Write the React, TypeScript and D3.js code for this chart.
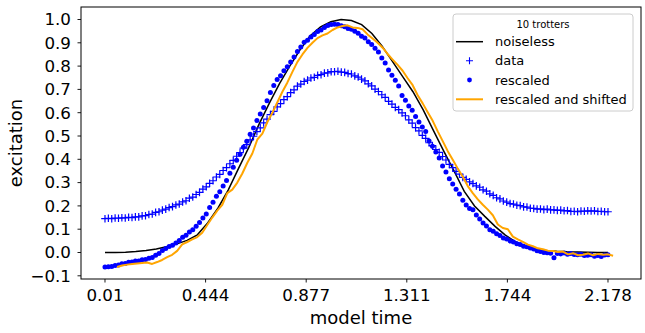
import React from 'react';
import * as d3 from 'd3';

// ---- data ----
const T_START = 0.01;
const T_END = 2.178;
const SHIFT_T_START = 0.062;
const SHIFT_T_END = 2.2;

const xTickValues = [0.01, 0.4436, 0.8772, 1.3108, 1.7444, 2.178];
const xTickLabels = ['0.01', '0.444', '0.877', '1.311', '1.744', '2.178'];
const yTickValues = [-0.1, 0.0, 0.1, 0.2, 0.3, 0.4, 0.5, 0.6, 0.7, 0.8, 0.9, 1.0];
const yTickLabels = ['\u22120.1', '0.0', '0.1', '0.2', '0.3', '0.4', '0.5', '0.6', '0.7', '0.8', '0.9', '1.0'];

const legendTitle = '10 trotters';
const seriesNames = ['noiseless', 'data', 'rescaled', 'rescaled and shifted'];

const noiseless = [
  0.0, 0.0, 0.001, 0.004, 0.009, 0.015, 0.025, 0.037, 0.052, 0.076,
  0.127, 0.19, 0.268, 0.36, 0.45, 0.55, 0.64, 0.725, 0.8, 0.87,
  0.93, 0.968, 0.99, 1.0, 0.996, 0.978, 0.94, 0.885, 0.82, 0.755,
  0.69, 0.612, 0.523, 0.435, 0.35, 0.262, 0.2, 0.155, 0.112, 0.075,
  0.046, 0.027, 0.014, 0.009, 0.005, 0.003, 0.002, 0.001, 0.0, 0.0,
];

const dataVals = [
  0.145, 0.147, 0.145, 0.148, 0.147, 0.149, 0.148, 0.151, 0.150, 0.153,
  0.153, 0.157, 0.158, 0.163, 0.165, 0.172, 0.175, 0.182, 0.186, 0.193,
  0.197, 0.204, 0.208, 0.217, 0.222, 0.233, 0.238, 0.249, 0.258, 0.272,
  0.282, 0.297, 0.308, 0.324, 0.335, 0.352, 0.364, 0.381, 0.395, 0.413,
  0.429, 0.448, 0.463, 0.483, 0.499, 0.519, 0.535, 0.556, 0.572, 0.592,
  0.606, 0.625, 0.639, 0.656, 0.669, 0.686, 0.698, 0.714, 0.723, 0.734,
  0.740, 0.749, 0.752, 0.760, 0.763, 0.770, 0.771, 0.776, 0.776, 0.778,
  0.774, 0.773, 0.768, 0.766, 0.758, 0.753, 0.744, 0.737, 0.724, 0.715,
  0.701, 0.691, 0.677, 0.666, 0.649, 0.637, 0.623, 0.613, 0.599, 0.587,
  0.569, 0.555, 0.536, 0.522, 0.503, 0.490, 0.471, 0.459, 0.442, 0.430,
  0.412, 0.397, 0.378, 0.364, 0.348, 0.336, 0.322, 0.314, 0.303, 0.296,
  0.286, 0.280, 0.269, 0.263, 0.252, 0.245, 0.235, 0.230, 0.221, 0.216,
  0.210, 0.208, 0.203, 0.201, 0.196, 0.195, 0.190, 0.189, 0.186, 0.187,
  0.184, 0.186, 0.183, 0.183, 0.181, 0.182, 0.179, 0.180, 0.176, 0.177,
  0.175, 0.178, 0.177, 0.179, 0.178, 0.179, 0.176, 0.177, 0.175, 0.175,
];

const rescaledVals = [
  -0.062, -0.061, -0.060, -0.056, -0.054, -0.048, -0.047, -0.042, -0.041, -0.037,
  -0.036, -0.031, -0.030, -0.025, -0.021, -0.012, -0.004, 0.009, 0.017, 0.026,
  0.031, 0.041, 0.051, 0.065, 0.074, 0.088, 0.098, 0.113, 0.129, 0.148,
  0.165, 0.193, 0.216, 0.241, 0.261, 0.285, 0.309, 0.340, 0.366, 0.396,
  0.422, 0.452, 0.477, 0.507, 0.534, 0.566, 0.594, 0.622, 0.651, 0.687,
  0.717, 0.742, 0.759, 0.780, 0.797, 0.818, 0.839, 0.863, 0.882, 0.902,
  0.911, 0.925, 0.936, 0.948, 0.955, 0.966, 0.974, 0.979, 0.980, 0.979,
  0.973, 0.969, 0.961, 0.958, 0.950, 0.941, 0.928, 0.921, 0.904, 0.893,
  0.877, 0.861, 0.835, 0.813, 0.783, 0.761, 0.739, 0.715, 0.674, 0.653,
  0.629, 0.610, 0.584, 0.560, 0.539, 0.519, 0.479, 0.456, 0.431, 0.406,
  0.371, 0.346, 0.317, 0.294, 0.271, 0.251, 0.224, 0.204, 0.189, 0.183,
  0.161, 0.144, 0.127, 0.114, 0.098, 0.091, 0.080, 0.073, 0.062, 0.058,
  0.049, 0.045, 0.038, 0.034, 0.027, 0.025, 0.019, 0.015, 0.007, 0.004,
  0.000, -0.001, -0.003, -0.022, -0.004, -0.006, -0.002, -0.007, -0.004, -0.009,
  -0.010, -0.008, -0.013, -0.012, -0.010, -0.016, -0.013, -0.017, -0.011, -0.010,
];

const shiftedVals = [
  -0.062, -0.056, -0.052, -0.049, -0.047, -0.045, -0.043, -0.049, -0.041, -0.032,
  -0.020, -0.010, 0.007, 0.035, 0.045, 0.056, 0.066, 0.085, 0.118, 0.150,
  0.180, 0.205, 0.255, 0.270, 0.300, 0.339, 0.385, 0.425, 0.485, 0.510,
  0.560, 0.600, 0.645, 0.690, 0.730, 0.775, 0.818, 0.850, 0.878, 0.900,
  0.920, 0.932, 0.940, 0.955, 0.966, 0.972, 0.975, 0.966, 0.964, 0.958,
  0.936, 0.918, 0.900, 0.879, 0.852, 0.828, 0.805, 0.780, 0.748, 0.718,
  0.675, 0.640, 0.602, 0.565, 0.520, 0.478, 0.435, 0.398, 0.360, 0.325,
  0.285, 0.255, 0.228, 0.205, 0.184, 0.160, 0.120, 0.105, 0.100, 0.068,
  0.056, 0.046, 0.034, 0.027, 0.018, 0.014, 0.008, 0.006, 0.002, 0.004,
  -0.008, -0.003, -0.012, -0.010, -0.004, -0.012, -0.006, -0.010, -0.008, -0.014,
];

// ---- layout ----
const W = 645;
const H = 333;
const PL = 81, PR = 641, PT = 7, PB = 279;
const FONT = 'DejaVu Sans, sans-serif';

function withTime(vals: number[], t0: number, t1: number) {
  const n = vals.length;
  return vals.map((v, i) => ({ t: t0 + (i * (t1 - t0)) / (n - 1), v }));
}

export default function App() {
  const x = d3.scaleLinear().domain([-0.0934, 2.3203]).range([PL, PR]);
  const y = d3.scaleLinear().domain([-0.1, 1.0]).range([275.8, 19.5]);

  const nl = withTime(noiseless, T_START, T_END);
  const dt = withTime(dataVals, T_START, T_END);
  const rs = withTime(rescaledVals, T_START, T_END);
  const sh = withTime(shiftedVals, SHIFT_T_START, SHIFT_T_END);

  const line = d3.line<{ t: number; v: number }>().x((d) => x(d.t)).y((d) => y(d.v));

  const legendX = 453, legendY = 14, legendW = 180, legendH = 97;
  const rowY = [41.7, 60.7, 80, 99.3];
  const ms = 3.8;

  return (
    <svg width={W} height={H} style={{ position: 'absolute', left: 0, top: 0, background: '#fff' }} fontFamily={FONT}>
      <rect x={0} y={0} width={W} height={H} fill="#fff" />
      <defs>
        <clipPath id="plotclip">
          <rect x={PL} y={PT} width={PR - PL} height={PB - PT} />
        </clipPath>
      </defs>
      <g clipPath="url(#plotclip)">
        <path d={line(nl) || ''} fill="none" stroke="#000" strokeWidth={1.5} />
        {dt.map((d, i) => (
          <path key={'p' + i} d={`M${x(d.t) - ms},${y(d.v)}h${2 * ms}M${x(d.t)},${y(d.v) - ms}v${2 * ms}`} stroke="#0000ff" strokeWidth={1.2} fill="none" />
        ))}
        {rs.map((d, i) => (
          <circle key={'c' + i} cx={x(d.t)} cy={y(d.v)} r={2.5} fill="#0000ff" />
        ))}
        <path d={line(sh) || ''} fill="none" stroke="#ffa500" strokeWidth={2} strokeLinejoin="round" />
      </g>

      {/* frame */}
      <rect x={PL} y={PT} width={PR - PL} height={PB - PT} fill="none" stroke="#000" strokeWidth={1} />

      {/* y ticks */}
      {yTickValues.map((v, i) => (
        <g key={'yt' + i}>
          <line x1={PL - 3.5} x2={PL} y1={y(v)} y2={y(v)} stroke="#000" strokeWidth={0.9} />
          <text x={71} y={y(v)} dy="0.35em" textAnchor="end" fontSize={16.7} fill="#000">{yTickLabels[i]}</text>
        </g>
      ))}
      {/* x ticks */}
      {xTickValues.map((v, i) => (
        <g key={'xt' + i}>
          <line x1={x(v)} x2={x(v)} y1={PB} y2={PB + 3.5} stroke="#000" strokeWidth={0.9} />
          <text x={x(v)} y={301} textAnchor="middle" fontSize={16.7} fill="#000">{xTickLabels[i]}</text>
        </g>
      ))}

      <text x={(PL + PR) / 2} y={324} textAnchor="middle" fontSize={18} fill="#000">model time</text>
      <text transform={`translate(22,${(PT + PB) / 2}) rotate(-90)`} textAnchor="middle" fontSize={18} fill="#000">excitation</text>

      {/* legend */}
      <rect x={legendX} y={legendY} width={legendW} height={legendH} rx={3} fill="#fff" fillOpacity={0.8} stroke="#cccccc" strokeWidth={1} />
      <text x={legendX + legendW / 2} y={24} dy="0.35em" textAnchor="middle" fontSize={10} fill="#000">{legendTitle}</text>
      <line x1={456} x2={483} y1={rowY[0]} y2={rowY[0]} stroke="#000" strokeWidth={1.5} />
      <path d={`M${469.5 - 3.5},${rowY[1]}h7M${469.5},${rowY[1] - 3.5}v7`} stroke="#0000ff" strokeWidth={1.1} />
      <circle cx={469.5} cy={rowY[2]} r={2.4} fill="#0000ff" />
      <line x1={456} x2={483} y1={rowY[3]} y2={rowY[3]} stroke="#ffa500" strokeWidth={2} />
      {seriesNames.map((s, i) => (
        <text key={'lg' + i} x={495} y={rowY[i]} dy="0.35em" fontSize={13} fill="#000">{s}</text>
      ))}
    </svg>
  );
}
